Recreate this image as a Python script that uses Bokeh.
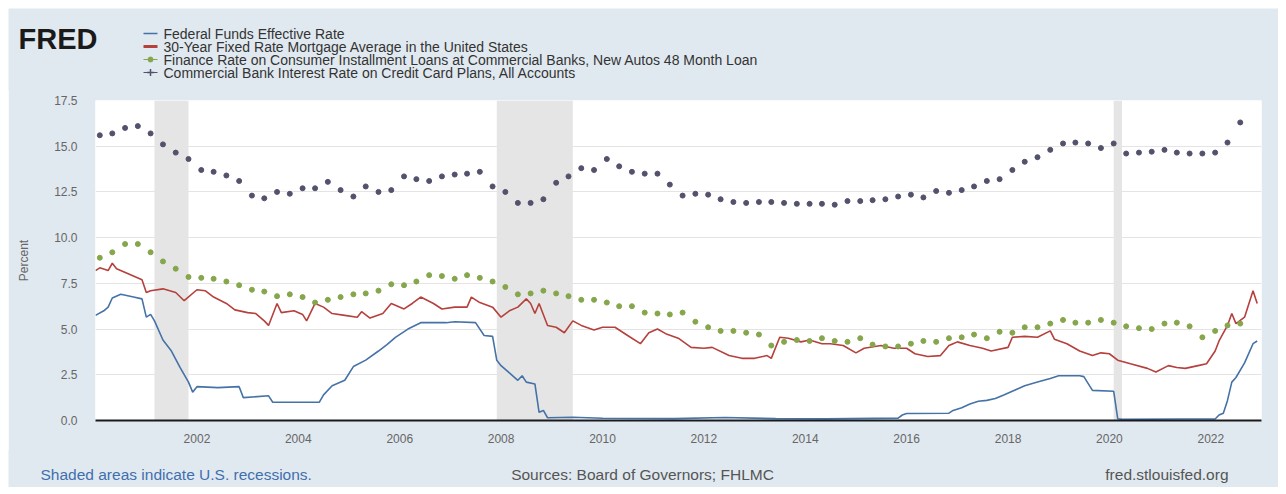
import math
import pandas as pd
from bokeh.plotting import figure
from bokeh.models import (Range1d, FixedTicker, NumeralTickFormatter, DatetimeTickFormatter,
                          BoxAnnotation)
from bokeh.core.properties import value
from bokeh.embed import file_html
from bokeh.resources import INLINE

# ---------------- data ----------------
ff_dates = ["2000-01", "2000-03", "2000-04", "2000-05", "2000-07", "2000-10", "2000-12",
            "2001-01", "2001-02", "2001-03", "2001-05", "2001-07", "2001-09", "2001-11", "2001-12",
            "2002-01", "2002-06", "2002-11", "2002-12", "2003-06", "2003-07", "2004-06", "2004-07",
            "2004-09", "2004-12", "2005-02", "2005-05", "2005-08", "2005-10", "2005-12", "2006-03",
            "2006-06", "2006-12", "2007-02", "2007-07", "2007-09", "2007-11", "2007-12",
            "2008-01", "2008-03", "2008-05", "2008-06", "2008-07", "2008-09", "2008-10", "2008-11",
            "2008-12", "2009-06", "2010-01", "2011-06", "2012-06", "2013-06", "2014-06", "2015-11",
            "2015-12", "2016-01", "2016-11", "2016-12", "2017-02", "2017-04", "2017-06", "2017-08",
            "2017-10", "2017-12", "2018-03", "2018-05", "2018-08", "2018-11", "2019-01", "2019-06",
            "2019-07", "2019-09", "2020-02", "2020-03", "2020-04", "2021-06", "2022-02", "2022-03",
            "2022-04", "2022-05", "2022-06", "2022-07", "2022-09", "2022-11", "2022-12"]
ff_values = [5.75, 6.0, 6.2, 6.7, 6.9, 6.75, 6.65,
             5.65, 5.8, 5.45, 4.4, 3.8, 2.9, 2.1, 1.55,
             1.85, 1.8, 1.85, 1.25, 1.35, 1.0, 1.0, 1.4,
             1.9, 2.2, 2.95, 3.3, 3.8, 4.15, 4.55, 5.0,
             5.35, 5.35, 5.4, 5.35, 4.65, 4.6, 3.3,
             3.0, 2.6, 2.2, 2.45, 2.1, 2.0, 0.45, 0.55,
             0.15, 0.18, 0.12, 0.1, 0.16, 0.1, 0.09, 0.13,
             0.3, 0.38, 0.4, 0.55, 0.7, 0.9, 1.05, 1.1,
             1.2, 1.4, 1.7, 1.9, 2.1, 2.3, 2.45, 2.45,
             2.4, 1.65, 1.6, 0.1, 0.06, 0.08, 0.08, 0.3,
             0.4, 1.1, 2.1, 2.35, 3.15, 4.2, 4.35]

mort_dates = ["2000-01", "2000-02", "2000-04", "2000-05", "2000-06", "2000-09", "2000-12",
              "2001-01", "2001-02", "2001-05", "2001-08", "2001-10", "2002-01", "2002-03", "2002-05",
              "2002-08", "2002-10", "2003-01", "2003-03", "2003-05", "2003-06", "2003-08", "2003-09",
              "2003-12", "2004-02", "2004-03", "2004-05", "2004-07", "2004-09", "2004-12", "2005-03",
              "2005-04", "2005-06", "2005-09", "2005-11", "2006-02", "2006-04", "2006-06", "2006-09",
              "2006-11", "2007-02", "2007-05", "2007-06", "2007-08", "2007-11", "2008-01", "2008-03",
              "2008-05", "2008-07", "2008-08", "2008-09", "2008-10", "2008-12", "2009-02", "2009-04",
              "2009-06", "2009-08", "2009-11", "2010-01", "2010-04", "2010-07", "2010-10", "2010-12",
              "2011-02", "2011-04", "2011-07", "2011-10", "2012-01", "2012-03", "2012-07", "2012-10",
              "2013-01", "2013-04", "2013-05", "2013-07", "2013-09", "2013-12", "2014-02", "2014-05",
              "2014-07", "2014-10", "2015-01", "2015-03", "2015-07", "2015-10", "2016-01", "2016-03",
              "2016-06", "2016-09", "2016-11", "2016-12", "2017-01", "2017-04", "2017-07", "2017-09",
              "2018-01", "2018-02", "2018-05", "2018-08", "2018-11", "2018-12", "2019-03", "2019-06",
              "2019-09", "2019-11", "2020-01", "2020-03", "2020-06", "2020-10", "2020-12", "2021-03",
              "2021-05", "2021-07", "2021-10", "2021-12", "2022-02", "2022-03", "2022-05", "2022-06",
              "2022-07", "2022-09", "2022-11", "2022-12"]
mort_values = [8.2, 8.35, 8.2, 8.6, 8.3, 8.0, 7.7,
               7.0, 7.1, 7.2, 7.0, 6.55, 7.15, 7.1, 6.75,
               6.4, 6.05, 5.9, 5.85, 5.45, 5.2, 6.4, 5.9,
               6.0, 5.8, 5.45, 6.4, 6.2, 5.85, 5.75, 5.65,
               5.95, 5.6, 5.85, 6.4, 6.1, 6.4, 6.75, 6.4,
               6.1, 6.2, 6.2, 6.75, 6.45, 6.2, 5.65, 6.0,
               6.2, 6.65, 6.4, 5.85, 6.4, 5.2, 5.1, 4.8,
               5.45, 5.2, 4.95, 5.1, 5.1, 4.65, 4.2, 4.8,
               5.0, 4.75, 4.5, 4.0, 3.95, 4.0, 3.55, 3.4,
               3.4, 3.55, 3.4, 4.55, 4.5, 4.3, 4.4, 4.2,
               4.2, 4.1, 3.7, 3.95, 4.1, 3.95, 3.95, 3.65,
               3.5, 3.55, 4.1, 4.2, 4.3, 4.1, 3.95, 3.8,
               4.0, 4.55, 4.6, 4.55, 4.9, 4.45, 4.2, 3.8,
               3.55, 3.7, 3.65, 3.3, 3.1, 2.85, 2.65, 3.0,
               2.9, 2.85, 3.0, 3.1, 3.8, 4.35, 5.2, 5.85,
               5.3, 5.65, 7.1, 6.4]

# quarterly series (Feb, May, Aug, Nov), first observation Feb 2000
quarter_start = "2000-02-01"
auto_values = [8.9, 9.2, 9.65, 9.65, 9.2, 8.7, 8.3, 7.85, 7.8, 7.75, 7.6, 7.4,
               7.15, 7.05, 6.8, 6.9, 6.75, 6.45, 6.6, 6.75, 6.9, 6.95, 7.1, 7.45,
               7.4, 7.6, 7.95, 7.9, 7.75, 7.95, 7.8, 7.6, 7.3, 6.9, 6.95, 7.1,
               6.95, 6.8, 6.6, 6.6, 6.45, 6.25, 6.25, 5.9, 5.85, 5.8, 5.9, 5.4,
               5.1, 4.9, 4.9, 4.8, 4.7, 4.1, 4.3, 4.4, 4.35, 4.5, 4.35, 4.3,
               4.5, 4.15, 4.05, 4.05, 4.2, 4.35, 4.3, 4.5, 4.55, 4.7, 4.5, 4.85,
               4.8, 5.1, 5.1, 5.3, 5.5, 5.35, 5.35, 5.5, 5.35, 5.15, 5.05, 5.0,
               5.3, 5.35, 5.15, 4.55, 4.9, 5.2, 5.3]
card_values = [15.6, 15.7, 16.0, 16.1, 15.7, 15.1, 14.65, 14.3, 13.7, 13.6, 13.4, 13.1,
               12.3, 12.15, 12.5, 12.4, 12.7, 12.7, 13.05, 12.6, 12.25, 12.8, 12.5, 12.6,
               13.35, 13.2, 13.1, 13.35, 13.45, 13.5, 13.6, 12.8, 12.5, 11.9, 11.9, 12.1,
               13.0, 13.35, 13.8, 13.7, 14.3, 13.9, 13.6, 13.5, 13.5, 12.9, 12.3, 12.4,
               12.35, 12.1, 11.95, 11.9, 11.95, 11.95, 11.9, 11.85, 11.85, 11.85, 11.8, 12.0,
               12.0, 12.05, 12.1, 12.25, 12.35, 12.2, 12.55, 12.45, 12.6, 12.8, 13.1, 13.2,
               13.7, 14.15, 14.4, 14.8, 15.15, 15.2, 15.15, 14.9, 15.15, 14.6, 14.65, 14.7,
               14.8, 14.65, 14.6, 14.6, 14.65, 15.2, 16.3]

recession_starts = ["2001-03", "2007-12", "2020-02"]
recession_ends = ["2001-11", "2009-06", "2020-04"]

series_names = ["Federal Funds Effective Rate",
                "30-Year Fixed Rate Mortgage Average in the United States",
                "Finance Rate on Consumer Installment Loans at Commercial Banks, New Autos 48 Month Loan",
                "Commercial Bank Interest Rate on Credit Card Plans, All Accounts"]
footer_texts = ["Shaded areas indicate U.S. recessions.",
                "Sources: Board of Governors; FHLMC",
                "fred.stlouisfed.org"]
y_ticks = [0.0, 2.5, 5.0, 7.5, 10.0, 12.5, 15.0, 17.5]
x_tick_years = [2002, 2004, 2006, 2008, 2010, 2012, 2014, 2016, 2018, 2020, 2022]
x_start, x_end = "2000-01-01", "2023-01-01"

# ---------------- build ----------------
def ms(d):
    return pd.Timestamp(d).value // 10**6

ff_x = pd.to_datetime(ff_dates, format="%Y-%m")
mort_x = pd.to_datetime(mort_dates, format="%Y-%m")
q_x = pd.date_range(quarter_start, periods=len(card_values), freq="3MS")

FONT = "Liberation Sans"
BG = "#e1e9f0"
W = 1270
HEAD_H, MAIN_H, FOOT_H = 82, 362, 37
BLUE, RED, GREEN, GREY = "#4572a7", "#b5403c", "#86a64c", "#52526c"

def blank(h, margin):
    f = figure(width=W, height=h, output_backend="svg", toolbar_location=None,
               x_range=Range1d(0, W), y_range=Range1d(h, 0),
               x_axis_location=None, y_axis_location=None,
               min_border=0, min_border_left=0, min_border_right=0,
               min_border_top=0, min_border_bottom=0,
               background_fill_color=BG, border_fill_color=BG, outline_line_color=None,
               margin=margin)
    f.grid.visible = False
    return f

# ---- header: logo + legend ----
head = blank(HEAD_H, (8, 8, 0, 8))
head.text(x=[10], y=[30], text=["FRED"], text_font=value(FONT), text_font_size="29px",
          text_font_style="bold", text_color="#1a1a1a", text_baseline="alphabetic")
leg_x0, leg_x1, leg_tx, leg_y0, leg_dy = 135, 149, 155, 25, 13
leg_colors = [BLUE, RED, GREEN, GREY]
leg_y = [leg_y0 + i * leg_dy for i in range(4)]
head.segment(x0=[leg_x0] * 4, y0=leg_y, x1=[leg_x1] * 4, y1=leg_y, line_color=leg_colors,
             line_width=[1.6, 3, 1.2, 1.2])
mid = (leg_x0 + leg_x1) / 2
head.scatter(x=[mid], y=[leg_y[2]], marker="circle", size=5, color=GREEN)
head.scatter(x=[mid], y=[leg_y[3]], marker="cross", size=7, line_color=GREY, line_width=1.5)
head.text(x=[leg_tx] * 4, y=leg_y, text=series_names, text_font=value(FONT),
          text_font_size="14px", text_color="#333333", text_baseline="middle")

# ---- main chart ----
p = figure(width=W, height=MAIN_H, x_axis_type="datetime", output_backend="svg",
           toolbar_location=None,
           x_range=Range1d(pd.Timestamp(x_start), pd.Timestamp(x_end)),
           y_range=Range1d(y_ticks[0], y_ticks[-1]),
           min_border_left=87, min_border_right=17, min_border_top=11, min_border_bottom=31,
           background_fill_color="white", border_fill_color=BG, outline_line_color=None,
           margin=(-1, 8, -1, 8))

p.xgrid.visible = False
p.ygrid.grid_line_color = "#e4e4e4"

p.yaxis.ticker = FixedTicker(ticks=y_ticks)
p.yaxis.formatter = NumeralTickFormatter(format="0.0")
p.yaxis.axis_line_color = None
p.yaxis.major_tick_line_color = None
p.yaxis.minor_tick_line_color = None
p.yaxis.major_tick_out = 0
p.yaxis.major_label_standoff = 18
p.yaxis.major_label_text_font = FONT
p.yaxis.major_label_text_font_size = "12px"
p.yaxis.major_label_text_color = "#666666"
p.yaxis.axis_label = "Percent"
p.yaxis.axis_label_standoff = 20
p.yaxis.axis_label_text_font = FONT
p.yaxis.axis_label_text_font_size = "12px"
p.yaxis.axis_label_text_font_style = "normal"
p.yaxis.axis_label_text_color = "#666666"

p.xaxis.ticker = FixedTicker(ticks=[ms(f"{y}-01-01") for y in x_tick_years])
p.xaxis.formatter = DatetimeTickFormatter(years="%Y", months="%Y", days="%Y", hours="%Y",
                                          minutes="%Y", seconds="%Y", milliseconds="%Y")
p.xaxis.axis_line_color = "#1a1a1a"
p.xaxis.axis_line_width = 2
p.xaxis.major_tick_line_color = None
p.xaxis.minor_tick_line_color = None
p.xaxis.major_tick_out = 0
p.xaxis.major_label_standoff = 13
p.xaxis.major_label_text_font = FONT
p.xaxis.major_label_text_font_size = "12px"
p.xaxis.major_label_text_color = "#666666"

for s, e in zip(recession_starts, recession_ends):
    p.add_layout(BoxAnnotation(left=ms(s + "-01"), right=ms(e + "-01"),
                               fill_color="#e5e5e5", fill_alpha=1.0,
                               line_color=None, level="underlay"))

p.line(ff_x, ff_values, line_color=BLUE, line_width=1.6)
p.line(mort_x, mort_values, line_color=RED, line_width=1.6)
p.scatter(q_x, auto_values, marker="circle", size=5, fill_color=GREEN, line_color=GREEN)
p.scatter(q_x, card_values, marker="circle", size=5, fill_color=GREY, line_color=GREY)

# ---- footer ----
foot = blank(FOOT_H, (0, 8, 8, 8))
foot.text(x=[32, 634, 1220], y=[24, 24, 24], text=footer_texts, text_font=value(FONT),
          text_font_size="15.5px", text_color=["#3f6fae", "#555555", "#555555"],
          text_align=["left", "center", "right"], text_baseline="middle")

open("out.html", "w").write(file_html([head, p, foot], INLINE))
